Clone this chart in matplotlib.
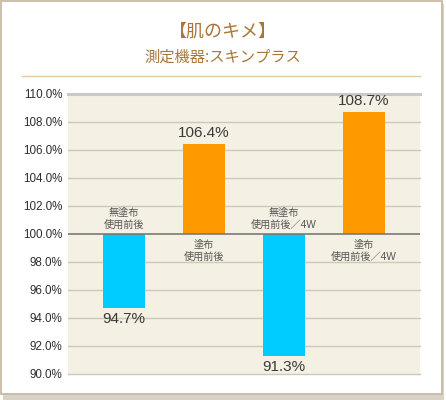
import matplotlib
matplotlib.use("Agg")
import matplotlib.pyplot as plt
from matplotlib.patches import Rectangle

# data
categories = ["無塗布\n使用前後", "塗布\n使用前後", "無塗布\n使用前後／4W", "塗布\n使用前後／4W"]
values = [94.7, 106.4, 91.3, 108.7]
bar_colors = ["#00ccff", "#ff9900", "#00ccff", "#ff9900"]
yticks = [90, 92, 94, 96, 98, 100, 102, 104, 106, 108, 110]
title = "【肌のキメ】"
subtitle = "測定機器:スキンプラス"

BASE = 100.0
JP = ["Noto Sans CJK JP", "DejaVu Sans"]
NUM = ["Liberation Sans", "Noto Sans CJK JP"]
TITLE_COLOR = "#a8763a"

fig = plt.figure(figsize=(4.46, 4.00), dpi=100, facecolor="white")

# card frame with a soft shadow (kept behind the axes)
fig.patches.append(Rectangle((3 / 446, 0 / 400), 441 / 446, 396 / 400, transform=fig.transFigure,
                             facecolor="#d8d2c8", edgecolor="none", zorder=-3))
fig.patches.append(Rectangle((1 / 446, 6 / 400), 441 / 446, 393 / 400, transform=fig.transFigure,
                             facecolor="white", edgecolor="#c4b49c", linewidth=1.2, zorder=-2))

fig.text(0.5, 1 - 32 / 400, title, ha="center", va="center", fontsize=13,
         color=TITLE_COLOR, family=JP)
fig.text(0.5, 1 - 57 / 400, subtitle, ha="center", va="center", fontsize=11,
         color=TITLE_COLOR, family=JP)
fig.add_artist(plt.Line2D([22 / 446, 420 / 446], [1 - 76 / 400, 1 - 76 / 400],
                          transform=fig.transFigure, color="#e2c8a6", linewidth=1.0))

ax = fig.add_axes([68 / 446, 1 - 374 / 400, 352 / 446, 280 / 400])
ax.set_facecolor("#f4f0e3")
x = range(len(values))
heights = [v - BASE for v in values]
ax.bar(x, heights, bottom=BASE, width=0.52, color=bar_colors, zorder=3)

ax.set_xlim(-0.7, 3.7)
ax.set_ylim(90, 110)
for t in yticks:
    if t == 110:
        ax.axhline(t, color="#c9c9c6", linewidth=2.2, zorder=2, clip_on=False)
    elif t == 100:
        ax.axhline(t, color="#7a7a76", linewidth=1.2, zorder=4)
    else:
        ax.axhline(t, color="#cfc8b8", linewidth=1.0, zorder=2, clip_on=False)

ax.set_yticks(yticks)
ax.set_yticklabels([f"{t:.1f}%" for t in yticks], family=NUM, fontsize=8.4, color="#2e2e2e")
ax.tick_params(axis="y", length=0, pad=4)
ax.set_xticks([])
for s in ax.spines.values():
    s.set_visible(False)

for i, (v, cat) in enumerate(zip(values, categories)):
    if v >= BASE:
        ax.annotate(f"{v:.1f}%", (i, v), xytext=(0, 3), textcoords="offset points",
                    ha="center", va="bottom", fontsize=11, family=NUM, color="#3a3a3a")
        ax.annotate(cat, (i, BASE), xytext=(0, -4), textcoords="offset points",
                    ha="center", va="top", fontsize=7.3, family=NUM, color="#555555",
                    linespacing=1.2)
    else:
        ax.annotate(f"{v:.1f}%", (i, v), xytext=(0, -3), textcoords="offset points",
                    ha="center", va="top", fontsize=11, family=NUM, color="#3a3a3a")
        ax.annotate(cat, (i, BASE), xytext=(0, 3), textcoords="offset points",
                    ha="center", va="bottom", fontsize=7.3, family=NUM, color="#555555",
                    linespacing=1.2)

fig.savefig("out.png", dpi=100, facecolor="white")
